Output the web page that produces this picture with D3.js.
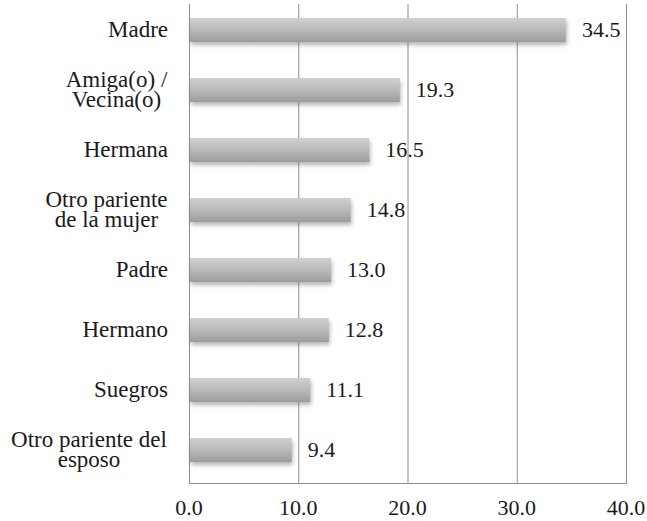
<!DOCTYPE html>
<html><head><meta charset="utf-8">
<script src="https://cdn.jsdelivr.net/npm/d3@7"></script>
</head><body style="margin:0;background:#fff">
<svg id="c" width="647" height="521"></svg>
<script>
const categories = [["Madre"],["Amiga(o) /","Vecina(o)"],["Hermana"],["Otro pariente","de la mujer"],["Padre"],["Hermano"],["Suegros"],["Otro pariente del","esposo"]];
const values = [34.5,19.3,16.5,14.8,13.0,12.8,11.1,9.4];
const ticks = [0,10,20,30,40];

const svg = d3.select("#c");
const fsNum = 22, fsCat = 23;
const x = d3.scaleLinear().domain([0,40]).range([189,626]);
const y = d3.scaleBand().domain(d3.range(categories.length)).range([0,480]).paddingInner(0.6).paddingOuter(0.3);
const plotTop = 4, plotBottom = 483;
const fontStyle = s => `font-family:"Liberation Serif", monospace !important; font-size:${s}px !important`;

const defs = svg.append("defs");
const g = defs.append("linearGradient").attr("id","bg").attr("x1",0).attr("y1",0).attr("x2",0).attr("y2",1);
g.append("stop").attr("offset","0%").attr("stop-color","#d0d0d0");
g.append("stop").attr("offset","45%").attr("stop-color","#bcbcbc");
g.append("stop").attr("offset","100%").attr("stop-color","#9c9c9c");
const f = defs.append("filter").attr("id","sh").attr("x","-5%").attr("y","-20%").attr("width","115%").attr("height","160%");
f.append("feDropShadow").attr("dx",1).attr("dy",3).attr("stdDeviation",2).attr("flood-color","#777").attr("flood-opacity",0.55);

// gridlines
svg.selectAll("line.grid").data(ticks.slice(1)).join("line").attr("class","grid")
  .attr("x1",d=>x(d)+0.5).attr("x2",d=>x(d)+0.5).attr("y1",plotTop).attr("y2",plotBottom)
  .attr("stroke","#8c8c8c").attr("stroke-width",1);
// frame: left and bottom
svg.append("line").attr("x1",x(0)+0.5).attr("x2",x(0)+0.5).attr("y1",plotTop).attr("y2",plotBottom+0.5).attr("stroke","#8c8c8c");
svg.append("line").attr("x1",x(0)).attr("x2",x(40)+1).attr("y1",plotBottom+0.5).attr("y2",plotBottom+0.5).attr("stroke","#8c8c8c");

// bars
svg.selectAll("rect.bar").data(values).join("rect").attr("class","bar")
  .attr("x",x(0)+1).attr("y",(d,i)=>y(i)).attr("width",d=>x(d)-x(0)-1).attr("height",y.bandwidth())
  .attr("fill","url(#bg)").attr("filter","url(#sh)");

// value labels
svg.selectAll("text.val").data(values).join("text").attr("class","val")
  .attr("style",fontStyle(fsNum)).attr("fill","#1a1a1a")
  .attr("x",d=>x(d)+16).attr("y",(d,i)=>y(i)+y.bandwidth()/2+7)
  .text(d=>d.toFixed(1));

// category labels
const lh = 20;
const approxW = {"Amiga(o) /":103,"Vecina(o)":90,"Otro pariente":123,"de la mujer":105,"Otro pariente del":158,"esposo":68};
categories.forEach((lines,i)=>{
  const cy = y(i)+y.bandwidth()/2;
  const W = d3.max(lines,t=>approxW[t]||0);
  lines.forEach((t,k)=>{
    const el = svg.append("text").attr("style",fontStyle(fsCat)).attr("fill","#1a1a1a")
      .attr("y", cy + 7 + (k-(lines.length-1)/2)*lh).text(t);
    if (lines.length === 1) el.attr("x",168).attr("text-anchor","end");
    else el.attr("x",168 - W/2).attr("text-anchor","middle");
  });
});

// x tick labels
svg.selectAll("text.tick").data(ticks).join("text").attr("class","tick")
  .attr("style",fontStyle(fsNum)).attr("fill","#1a1a1a")
  .attr("x",d=>x(d)).attr("y",515).attr("text-anchor","middle")
  .text(d=>d.toFixed(1));
</script>
</body></html>
